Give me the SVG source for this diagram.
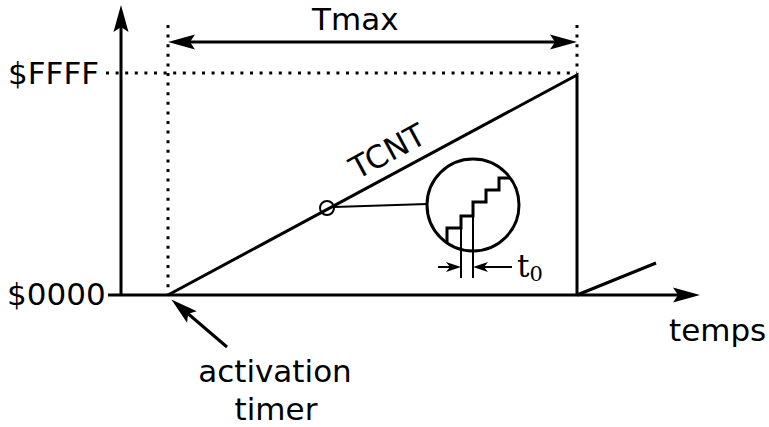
<svg xmlns="http://www.w3.org/2000/svg" width="769" height="427" viewBox="0 0 769 427">
<style>
.ax{stroke:#000;stroke-width:3;fill:none}
.thin{stroke:#000;stroke-width:2;fill:none}
.dot{stroke:#000;stroke-width:3;fill:none;stroke-dasharray:3 6.6}
.lbl{font-family:"DejaVu Sans",sans-serif;font-size:31px;fill:#000}
.ser{font-family:"DejaVu Serif",serif;fill:#000}
</style>
<defs>
<marker id="ah" markerUnits="userSpaceOnUse" orient="auto-start-reverse" markerWidth="40" markerHeight="20" refX="0" refY="0" viewBox="-20 -10 40 20" overflow="visible">
<path d="M10,0 L-17,-7.5 L-12,0 L-17,7.5 Z" fill="#000"/>
</marker>
<marker id="sh" markerUnits="userSpaceOnUse" orient="auto-start-reverse" markerWidth="30" markerHeight="14" refX="0" refY="0" viewBox="-15 -7 30 14" overflow="visible">
<path d="M4,0 L-11,-5 L-7,0 L-11,5 Z" fill="#000"/>
</marker>
</defs>
<g id="guides">
<line class="dot" x1="168" y1="25" x2="168" y2="295"/>
<line class="dot" x1="577" y1="25" x2="577" y2="73"/>
<line class="dot" x1="106" y1="73" x2="577" y2="73"/>
</g>
<g id="connectors">
<line class="ax" x1="121" y1="295" x2="121" y2="15" marker-end="url(#ah)"/>
<line class="ax" x1="108" y1="295" x2="690" y2="295" marker-end="url(#ah)"/>
<line class="ax" x1="178" y1="42" x2="567" y2="42" marker-start="url(#ah)" marker-end="url(#ah)"/>
<line class="ax" x1="227" y1="347" x2="179" y2="306" marker-end="url(#ah)"/>
<line class="thin" x1="334" y1="207" x2="427" y2="204"/>
<line class="thin" x1="438" y1="267" x2="457" y2="267" marker-end="url(#sh)"/>
<line class="thin" x1="512" y1="267" x2="477" y2="267" marker-end="url(#sh)"/>
</g>
<g id="signal">
<polyline class="ax" points="168,295 577,75 577,295"/>
<line class="ax" x1="577" y1="295" x2="656" y2="263"/>
</g>
<g id="zoom-point">
<circle class="thin" cx="327" cy="208" r="7"/>
</g>
<g id="magnifier">
<circle class="ax" cx="473" cy="205" r="46"/>
<path class="ax" d="M447,243 V228 H461 V216 H473 V202 H486 V190 H499 V178 H510"/>
<line class="thin" x1="461" y1="216" x2="461" y2="278"/>
<line class="thin" x1="473" y1="202" x2="473" y2="278"/>
<text class="ser" x="517" y="277" font-size="31">t<tspan font-size="21" dy="4">0</tspan></text>
</g>
<g id="labels">
<text class="lbl" x="8" y="84">$FFFF</text>
<text class="lbl" x="7" y="305">$0000</text>
<text class="lbl" x="312" y="30">Tmax</text>
<text class="lbl" x="357" y="180" transform="rotate(-28.3 357 180)">TCNT</text>
<text class="lbl" x="669" y="341">temps</text>
<text class="lbl" x="275" y="382" text-anchor="middle">activation</text>
<text class="lbl" x="276" y="420" text-anchor="middle">timer</text>
</g>
</svg>
